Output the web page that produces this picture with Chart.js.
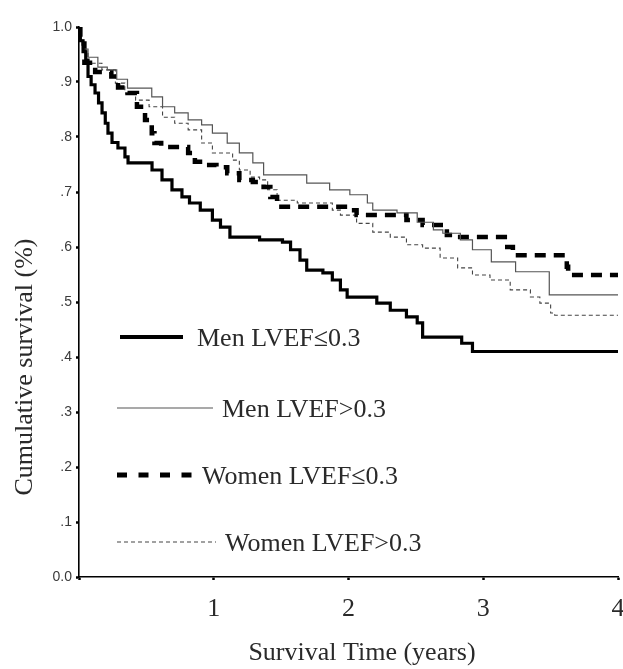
<!DOCTYPE html>
<html>
<head>
<meta charset="utf-8">
<script src="https://cdn.jsdelivr.net/npm/chart.js@4/dist/chart.umd.min.js"></script>
<style>
  html, body { margin: 0; padding: 0; background: #fff; }
  canvas { display: block; }
</style>
</head>
<body>
<canvas id="c" width="623" height="669"></canvas>
<script>
// ---- data ----
const seriesNames = ['Men LVEF\u22640.3', 'Men LVEF>0.3', 'Women LVEF\u22640.3', 'Women LVEF>0.3'];

const menLowTime = [0, 0.01, 0.03, 0.05, 0.067, 0.09, 0.119, 0.145, 0.171, 0.195, 0.215, 0.245, 0.289, 0.341, 0.364, 0.542, 0.616, 0.69, 0.764, 0.82, 0.90, 0.99, 1.05, 1.12, 1.34, 1.51, 1.57, 1.64, 1.69, 1.81, 1.88, 1.94, 1.99, 2.21, 2.31, 2.43, 2.51, 2.55, 2.84, 2.92, 4.0];
const menLowSurv = [1.0, 0.975, 0.955, 0.94, 0.91, 0.895, 0.88, 0.862, 0.844, 0.825, 0.807, 0.79, 0.78, 0.764, 0.753, 0.74, 0.722, 0.704, 0.691, 0.68, 0.667, 0.649, 0.636, 0.618, 0.613, 0.609, 0.595, 0.576, 0.558, 0.553, 0.54, 0.522, 0.509, 0.498, 0.485, 0.473, 0.462, 0.436, 0.425, 0.41, 0.41];

const menHighTime = [0, 0.01, 0.03, 0.067, 0.14, 0.21, 0.28, 0.36, 0.54, 0.62, 0.71, 0.81, 0.91, 0.99, 1.10, 1.19, 1.29, 1.37, 1.69, 1.86, 2.01, 2.14, 2.18, 2.36, 2.51, 2.63, 2.70, 2.83, 2.92, 3.06, 3.24, 3.49, 4.0];
const menHighSurv = [1.0, 0.976, 0.96, 0.945, 0.927, 0.922, 0.905, 0.889, 0.873, 0.855, 0.844, 0.831, 0.822, 0.807, 0.789, 0.771, 0.753, 0.731, 0.716, 0.704, 0.695, 0.68, 0.667, 0.662, 0.645, 0.631, 0.625, 0.613, 0.595, 0.573, 0.555, 0.513, 0.513];

const womenLowTime = [0, 0.01, 0.04, 0.12, 0.24, 0.29, 0.36, 0.43, 0.49, 0.54, 0.56, 0.61, 0.81, 0.86, 0.94, 1.02, 1.10, 1.19, 1.29, 1.37, 1.42, 1.47, 2.01, 2.06, 2.43, 2.55, 2.73, 2.78, 3.16, 3.22, 3.62, 3.63, 4.0];
const womenLowSurv = [1.0, 0.97, 0.935, 0.918, 0.91, 0.89, 0.88, 0.855, 0.831, 0.807, 0.789, 0.782, 0.771, 0.755, 0.749, 0.745, 0.734, 0.722, 0.718, 0.709, 0.691, 0.673, 0.667, 0.658, 0.649, 0.64, 0.622, 0.618, 0.60, 0.585, 0.564, 0.549, 0.549];

const womenHighTime = [0, 0.01, 0.03, 0.067, 0.17, 0.27, 0.34, 0.42, 0.52, 0.62, 0.71, 0.81, 0.91, 0.99, 1.14, 1.19, 1.27, 1.34, 1.40, 1.47, 1.62, 1.88, 1.94, 2.06, 2.18, 2.31, 2.43, 2.55, 2.68, 2.81, 2.92, 3.05, 3.20, 3.35, 3.42, 3.50, 3.53, 4.0];
const womenHighSurv = [1.0, 0.975, 0.955, 0.934, 0.922, 0.898, 0.88, 0.867, 0.855, 0.836, 0.825, 0.813, 0.789, 0.771, 0.758, 0.74, 0.727, 0.722, 0.704, 0.685, 0.68, 0.667, 0.658, 0.643, 0.627, 0.618, 0.604, 0.598, 0.58, 0.562, 0.549, 0.54, 0.522, 0.509, 0.498, 0.48, 0.476, 0.476];

const xTickLabels = ['', '1', '2', '3', '4'];
const yTickLabels = ['0.0', '.1', '.2', '.3', '.4', '.5', '.6', '.7', '.8', '.9', '1.0'];
const xAxisTitle = 'Survival Time (years)';
const yAxisTitle = 'Cumulative survival (%)';

// ---- helpers ----
const pts = (t, s) => t.map((x, i) => ({ x: x, y: s[i] }));
const SERIF = '"Liberation Serif", "Times New Roman", serif';
const TEXT = '#2a2a2a';

const styles = [
  { color: '#000', width: 3.2, dash: [] },
  { color: '#555', width: 1.2, dash: [] },
  { color: '#000', width: 4.5, dash: [11, 8] },
  { color: '#444', width: 1.1, dash: [4, 3] }
];
const seriesData = [
  pts(menLowTime, menLowSurv),
  pts(menHighTime, menHighSurv),
  pts(womenLowTime, womenLowSurv),
  pts(womenHighTime, womenHighSurv)
];

const datasets = seriesNames.map((name, i) => ({
  label: name,
  data: seriesData[i],
  borderColor: styles[i].color,
  borderWidth: styles[i].width,
  borderDash: styles[i].dash,
  stepped: 'before',
  pointRadius: 0,
  fill: false,
  tension: 0,
  borderCapStyle: 'butt'
}));

// Legend drawn inside the plot, as in the reference
const legendPlugin = {
  id: 'insideLegend',
  afterDraw(chart, args, opts) {
    const ctx = chart.ctx;
    ctx.save();
    opts.items.forEach((it, i) => {
      const st = styles[i];
      ctx.beginPath();
      ctx.strokeStyle = st.color;
      ctx.lineWidth = it.lw;
      ctx.setLineDash(it.dash);
      ctx.moveTo(it.x0, it.y);
      ctx.lineTo(it.x1, it.y);
      ctx.stroke();
      ctx.setLineDash([]);
      ctx.fillStyle = TEXT;
      ctx.font = '26px ' + SERIF;
      ctx.textAlign = 'left';
      ctx.textBaseline = 'middle';
      ctx.fillText(seriesNames[i], it.tx, it.y + 2);
    });
    ctx.restore();
  }
};

const titlesPlugin = {
  id: 'axisTitles',
  afterDraw(chart, args, opts) {
    const ctx = chart.ctx;
    ctx.save();
    ctx.fillStyle = TEXT;
    ctx.font = '26px ' + SERIF;
    ctx.textAlign = 'center';
    ctx.textBaseline = 'middle';
    ctx.fillText(xAxisTitle, opts.xTitle.x, opts.xTitle.y);
    ctx.translate(opts.yTitle.x, opts.yTitle.y);
    ctx.rotate(-Math.PI / 2);
    ctx.fillText(yAxisTitle, 0, 0);
    ctx.restore();
  }
};

new Chart(document.getElementById('c'), {
  type: 'line',
  data: { datasets: datasets },
  plugins: [legendPlugin, titlesPlugin],
  options: {
    responsive: false,
    animation: false,
    events: [],
    layout: { padding: { top: 27, right: 5, left: 0, bottom: 0 } },
    plugins: {
      legend: { display: false },
      tooltip: { enabled: false },
      insideLegend: {
        items: [
          { x0: 120, x1: 183, y: 337, tx: 197, lw: 4, dash: [] },
          { x0: 117, x1: 213, y: 408, tx: 222, lw: 1.2, dash: [] },
          { x0: 117, x1: 192, y: 475, tx: 202, lw: 5, dash: [10, 11.5] },
          { x0: 117, x1: 216, y: 542, tx: 225, lw: 1.1, dash: [4, 3] }
        ]
      },
      axisTitles: {
        xTitle: { x: 362, y: 653 },
        yTitle: { x: 25, y: 367 }
      }
    },
    scales: {
      x: {
        type: 'linear',
        min: 0,
        max: 4,
        afterFit(s) { s.height = 92; s.paddingRight = 0; s.paddingLeft = 0; },
        ticks: {
          stepSize: 1,
          padding: 14,
          color: TEXT,
          font: { family: SERIF, size: 26 },
          maxRotation: 0,
          callback: (v) => xTickLabels[Math.round(v)]
        },
        grid: { drawOnChartArea: false, tickLength: 3, tickWidth: 2.5, tickColor: '#000' },
        border: { color: '#000', width: 1.6 }
      },
      y: {
        type: 'linear',
        min: 0,
        max: 1,
        afterFit(s) { s.width = 79; },
        ticks: {
          stepSize: 0.1,
          padding: 4,
          color: '#3a3a3a',
          font: { family: '"Liberation Sans", Arial, sans-serif', size: 14 },
          callback: (v) => yTickLabels[Math.round(v * 10)]
        },
        grid: { drawOnChartArea: false, tickLength: 3, tickWidth: 2.5, tickColor: '#000' },
        border: { color: '#000', width: 1.6 }
      }
    }
  }
});
</script>
</body>
</html>
